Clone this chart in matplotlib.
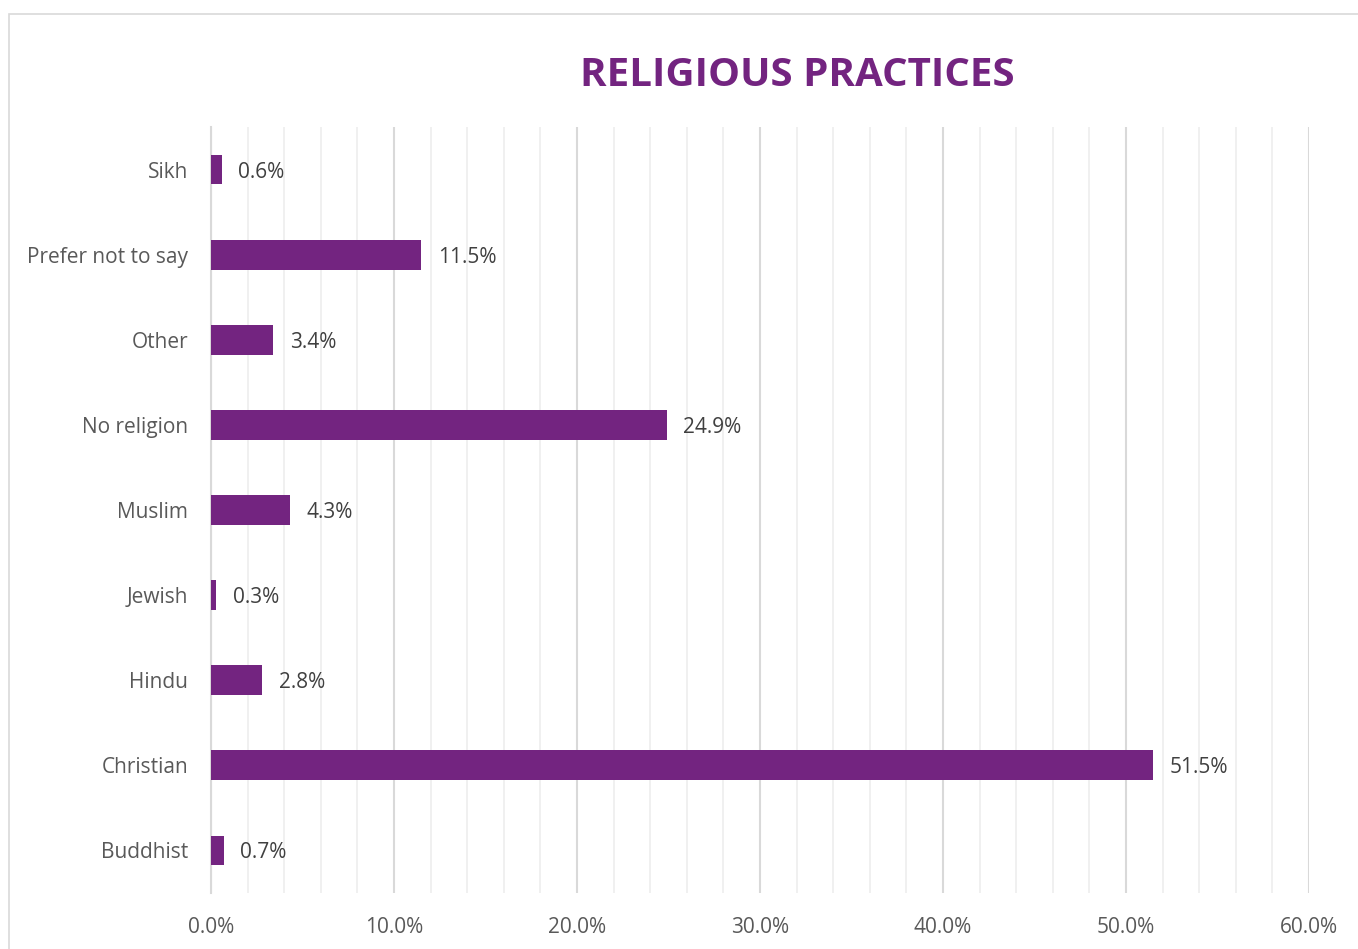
import matplotlib.pyplot as plt
import matplotlib.patches as mpatches
from matplotlib.ticker import MultipleLocator, FuncFormatter

# Data (bottom to top, as drawn)
categories = ["Buddhist", "Christian", "Hindu", "Jewish", "Muslim",
              "No religion", "Other", "Prefer not to say", "Sikh"]
values = [0.7, 51.5, 2.8, 0.3, 4.3, 24.9, 3.4, 11.5, 0.6]

purple = "#732480"
grey_text = "#595959"

plt.rcParams["font.family"] = ["Open Sans", "DejaVu Sans"]

fig = plt.figure(figsize=(13.58, 9.49), dpi=100)
ax = fig.add_axes([211 / 1358, 1 - 893 / 949, 1098 / 1358, 766 / 949])

# Outer chart frame
fig.patches.append(mpatches.Rectangle((9 / 1358, -0.05), 1.1, 1 - 14 / 949 + 0.05,
                                      transform=fig.transFigure, fill=False,
                                      edgecolor="#D9D9D9", linewidth=1.2))

y = range(len(categories))
ax.barh(y, values, height=0.35, color=purple, zorder=3)

for yi, v in zip(y, values):
    ax.text(v + 0.9, yi, f"{v:.1f}%", va="center_baseline", ha="left",
            fontsize=15, color="#404040")

ax.set_xlim(0, 60)
ax.set_ylim(-0.5, len(categories) - 0.5)
ax.set_yticks(list(y))
ax.set_yticklabels(categories, fontsize=15, color=grey_text)
ax.xaxis.set_major_locator(MultipleLocator(10))
ax.xaxis.set_minor_locator(MultipleLocator(2))
ax.xaxis.set_major_formatter(FuncFormatter(lambda x, p: f"{x:.1f}%"))
ax.tick_params(axis="x", which="major", labelsize=15, labelcolor=grey_text,
               length=0, pad=17)
ax.tick_params(axis="x", which="minor", length=0)
ax.tick_params(axis="y", length=0, pad=16.5)

ax.grid(axis="x", which="major", color="#D9D9D9", linewidth=1.5, zorder=0)
ax.grid(axis="x", which="minor", color="#EDEDED", linewidth=1.2, zorder=0)
ax.grid(axis="y", visible=False)
for s in ["top", "right", "bottom"]:
    ax.spines[s].set_visible(False)
ax.spines["left"].set_color("#D9D9D9")
ax.spines["left"].set_linewidth(1.5)

fig.text(797 / 1358, 1 - 75 / 949, "RELIGIOUS PRACTICES", ha="center", va="center",
         fontsize=29, fontweight="bold", color=purple)

fig.savefig("out.png", dpi=100)
